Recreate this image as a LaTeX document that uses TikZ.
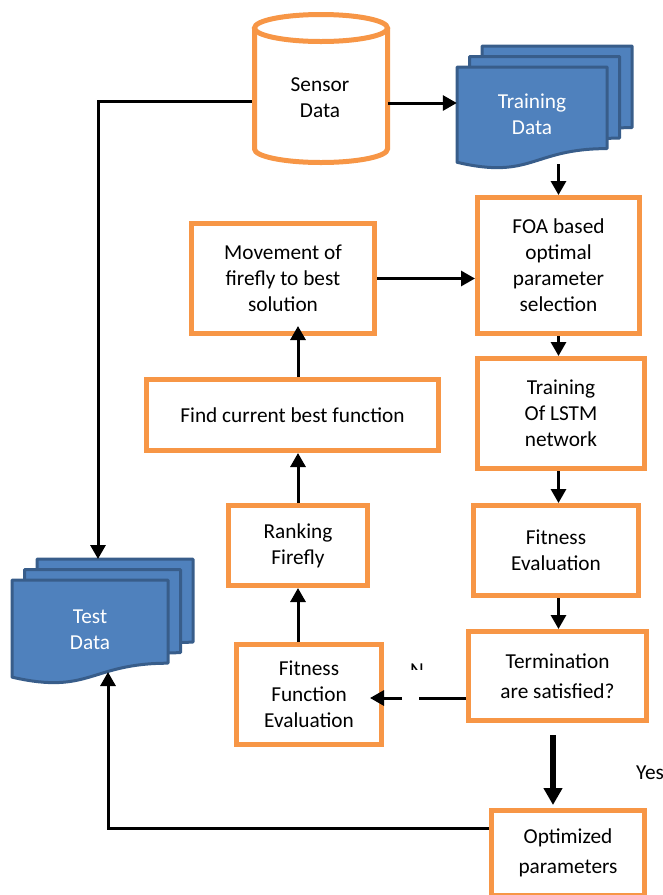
\documentclass[tikz,border=0pt]{standalone}
\usepackage{fontspec}
\setmainfont{Carlito}
\usetikzlibrary{arrows.meta}
\definecolor{boxorange}{HTML}{F79646}
\definecolor{docblue}{HTML}{4F81BD}
\definecolor{docedge}{HTML}{385D8A}
\tikzset{
  box/.style={draw=boxorange, line width=5pt, fill=white, align=center, inner sep=0pt},
  wide/.style={font=\fontsize{21.3}{30.5}\selectfont},
  arr/.style={line width=3pt, -{Triangle[length=14pt,width=15pt]}},
  bigarr/.style={line width=6.5pt, -{Triangle[length=17pt,width=18pt]}},
  page/.style={draw=docedge, fill=docblue, line width=3pt, line join=round},
}
% one page: top-left x, y (measured downwards), width, height
\newcommand\docpage[4]{\draw[page] (#1,{-(#2)}) -- ++(#3,0) -- ++(0,{-0.8*(#4)}) .. controls +({-0.5*(#3)},0) and +({0.5*(#3)},{-0.173*(#4)}) .. (#1,{-(#2)-0.934*(#4)}) -- cycle;}
\newcommand\docstack[4]{\docpage{#1+25}{#2-21}{#3}{#4}\docpage{#1+12.5}{#2-10.5}{#3}{#4}\docpage{#1}{#2}{#3}{#4}}
\begin{document}
\begin{tikzpicture}[x=1pt, y=1pt, font=\fontsize{21.3}{26}\selectfont, line cap=butt]
\path[use as bounding box, clip] (0,0) rectangle (663,-895);
% sensor cylinder
\draw[draw=boxorange, line width=5pt, fill=white] (254.5,-28) -- (254.5,-149) arc[start angle=180, end angle=360, x radius=66.5, y radius=13.5] -- (387.5,-28);
\draw[draw=boxorange, line width=5pt, fill=white] (321,-28) ellipse[x radius=66.5, y radius=13.5];
\node[align=center, minimum width=136pt, inner sep=0pt] (sensor) at (320,-98) {Sensor\\Data};
% document stacks
\docstack{457}{67}{150}{102}
\node[align=center, text=white, minimum width=150pt, inner sep=0pt] (train) at (532,-114) {Training\\Data};
\docstack{12}{580}{156}{104}
\node[align=center, text=white, minimum width=156pt, inner sep=0pt] (test) at (90,-630) {Test\\Data};
\coordinate (testtop) at (98,-559);
\coordinate (testbot) at (108,-672);
% boxes
\node[box, minimum width=162pt, minimum height=136pt] (foa) at (558.5,-265.5) {FOA based\\optimal\\parameter\\selection};
\node[box, minimum width=167pt, minimum height=110pt] (lstm) at (561,-413.5) {Training\\Of LSTM\\network};
\node[box, minimum width=165pt, minimum height=90pt] (fe) at (556,-550.5) {Fitness\\Evaluation};
\node[box, wide, minimum width=178pt, minimum height=89pt] (term) at (557.5,-676) {Termination\\are satisfied?};
\node[box, wide, minimum width=153pt, minimum height=85pt] (opt) at (568,-853) {Optimized\\parameters};
\node[box, minimum width=183pt, minimum height=110pt] (move) at (283,-278.5) {Movement of\\firefly to best\\solution};
\node[box, minimum width=292pt, minimum height=71pt] (find) at (292.5,-415) {Find current best function};
\node[box, minimum width=139pt, minimum height=80pt] (rank) at (298,-545.5) {Ranking\\Firefly};
\node[box, minimum width=145pt, minimum height=100pt] (ffe) at (309,-694.5) {Fitness\\Function\\Evaluation};
% labels
\begin{scope}
\clip (405,-660) rectangle (430,-669);
\node[anchor=base, inner sep=0pt] (no) at (417,-677) {N};
\end{scope}
\node[anchor=west, inner sep=0pt] (yes) at (636,-773) {Yes};
% connectors
\draw[arr] ([yshift=-3pt]sensor.west) -| (testtop);
\draw[arr] ([yshift=-5pt]sensor.east) -- ([yshift=-5pt]sensor.east -| train.west);
\draw[arr] ([yshift=31pt]foa.north) -- (foa.north);
\draw[arr] (foa.south) -- (foa.south |- lstm.north);
\draw[arr] (lstm.south -| foa) -- (fe.north -| foa);
\draw[arr] (fe.south -| foa) -- (term.north -| foa);
\draw[arr] (move.east) -- (move.east -| foa.west);
\draw[arr] (find.north -| rank) -- ([yshift=10pt]move.south -| rank);
\draw[arr] (rank.north) -- (find.south -| rank);
\draw[arr] (ffe.north -| rank) -- (rank.south);
\draw[arr, dash pattern=on 47pt off 17pt] ([yshift=-22pt]term.west) -- ([xshift=-14pt,yshift=-22pt]term.west -| ffe.east);
\draw[bigarr] ([xshift=-4.5pt,yshift=-12pt]term.south) -- ([xshift=-4.5pt,yshift=3pt]term.south |- opt.north);
\draw[arr] ([yshift=25pt]opt.west) -| (testbot);
\end{tikzpicture}
\end{document}
